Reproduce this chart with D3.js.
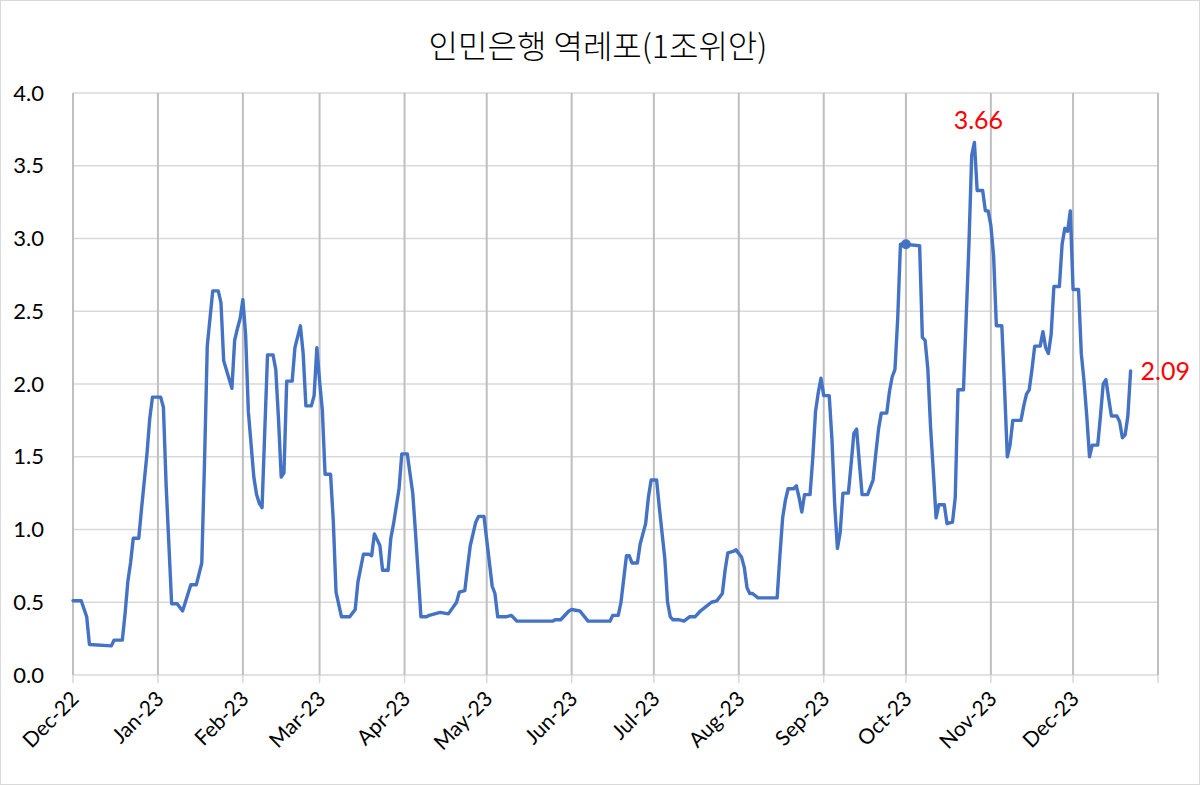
<!DOCTYPE html>
<html>
<head>
<meta charset="utf-8">
<script src="https://cdn.jsdelivr.net/npm/d3@7"></script>
<style>
  html, body { margin: 0; padding: 0; background: #fff; }
  svg { display: block; }
</style>
</head>
<body>
<svg id="chart" width="1200" height="785"></svg>
<script>
// ---- data ----
const chartTitle = "인민은행 역레포(1조위안)";
const dates = [
  "2022-12-01","2022-12-04","2022-12-06","2022-12-07","2022-12-15","2022-12-16","2022-12-19","2022-12-20",
  "2022-12-21","2022-12-22","2022-12-23","2022-12-25","2022-12-26","2022-12-28","2022-12-29","2022-12-30",
  "2023-01-02","2023-01-03","2023-01-04","2023-01-06","2023-01-08","2023-01-10","2023-01-13","2023-01-15",
  "2023-01-17","2023-01-18","2023-01-19","2023-01-21","2023-01-23","2023-01-24","2023-01-25","2023-01-28",
  "2023-01-29","2023-01-30","2023-01-31","2023-02-01","2023-02-02","2023-02-03","2023-02-05","2023-02-06",
  "2023-02-07","2023-02-08","2023-02-09","2023-02-10","2023-02-12","2023-02-13","2023-02-14","2023-02-15",
  "2023-02-16","2023-02-17","2023-02-19","2023-02-20","2023-02-22","2023-02-23","2023-02-24","2023-02-26",
  "2023-02-27","2023-02-28","2023-03-01","2023-03-02","2023-03-03","2023-03-05","2023-03-06","2023-03-07",
  "2023-03-09","2023-03-12","2023-03-14","2023-03-15","2023-03-17","2023-03-19","2023-03-20","2023-03-21",
  "2023-03-23","2023-03-24","2023-03-26","2023-03-27","2023-03-28","2023-03-30","2023-03-31","2023-04-02",
  "2023-04-04","2023-04-05","2023-04-07","2023-04-09","2023-04-10","2023-04-12","2023-04-14","2023-04-17",
  "2023-04-20","2023-04-21","2023-04-23","2023-04-24","2023-04-25","2023-04-26","2023-04-27","2023-04-28",
  "2023-04-30","2023-05-01","2023-05-03","2023-05-04","2023-05-05","2023-05-08","2023-05-10","2023-05-12",
  "2023-05-25","2023-05-26","2023-05-28","2023-05-31","2023-06-01","2023-06-04","2023-06-07","2023-06-15",
  "2023-06-16","2023-06-18","2023-06-19","2023-06-21","2023-06-22","2023-06-23","2023-06-25","2023-06-26",
  "2023-06-27","2023-06-28","2023-06-29","2023-06-30","2023-07-02","2023-07-03","2023-07-05","2023-07-06",
  "2023-07-07","2023-07-08","2023-07-10","2023-07-12","2023-07-14","2023-07-16","2023-07-18","2023-07-20",
  "2023-07-22","2023-07-24","2023-07-26","2023-07-27","2023-07-28","2023-07-30","2023-07-31","2023-08-02",
  "2023-08-03","2023-08-04","2023-08-05","2023-08-06","2023-08-08","2023-08-15","2023-08-16","2023-08-17",
  "2023-08-18","2023-08-19","2023-08-21","2023-08-22","2023-08-23","2023-08-24","2023-08-25","2023-08-27",
  "2023-08-28","2023-08-29","2023-08-30","2023-08-31","2023-09-01","2023-09-03","2023-09-04","2023-09-05",
  "2023-09-06","2023-09-07","2023-09-08","2023-09-10","2023-09-11","2023-09-12","2023-09-13","2023-09-14",
  "2023-09-15","2023-09-17","2023-09-18","2023-09-19","2023-09-20","2023-09-21","2023-09-22","2023-09-24",
  "2023-09-25","2023-09-26","2023-09-27","2023-09-28","2023-09-29","2023-10-01","2023-10-06","2023-10-07",
  "2023-10-08","2023-10-09","2023-10-10","2023-10-11","2023-10-12","2023-10-13","2023-10-15","2023-10-16",
  "2023-10-18","2023-10-19","2023-10-20","2023-10-22","2023-10-23","2023-10-24","2023-10-25","2023-10-26",
  "2023-10-27","2023-10-29","2023-10-30","2023-10-31","2023-11-01","2023-11-02","2023-11-03","2023-11-05",
  "2023-11-06","2023-11-07","2023-11-08","2023-11-09","2023-11-12","2023-11-13","2023-11-14","2023-11-15",
  "2023-11-16","2023-11-17","2023-11-19","2023-11-20","2023-11-21","2023-11-22","2023-11-23","2023-11-24",
  "2023-11-26","2023-11-27","2023-11-28","2023-11-29","2023-11-30","2023-12-01","2023-12-03","2023-12-04",
  "2023-12-05","2023-12-06","2023-12-07","2023-12-08","2023-12-10","2023-12-11","2023-12-12","2023-12-13",
  "2023-12-14","2023-12-15","2023-12-17","2023-12-18","2023-12-19","2023-12-20","2023-12-21","2023-12-22"
];
const values = [
  0.51,0.51,0.40,0.21,0.20,0.24,0.24,0.42,
  0.64,0.77,0.94,0.94,1.14,1.52,1.76,1.91,
  1.91,1.84,1.30,0.49,0.49,0.44,0.62,0.62,
  0.77,1.46,2.26,2.64,2.64,2.56,2.16,1.97,
  2.30,2.38,2.45,2.58,2.34,1.81,1.36,1.24,
  1.18,1.15,1.68,2.20,2.20,2.10,1.76,1.36,
  1.39,2.02,2.02,2.25,2.40,2.21,1.85,1.85,
  1.92,2.25,2.02,1.82,1.38,1.38,1.06,0.57,
  0.40,0.40,0.45,0.64,0.83,0.83,0.82,0.97,
  0.89,0.72,0.72,0.94,1.04,1.28,1.52,1.52,
  1.25,0.98,0.40,0.40,0.41,0.42,0.43,0.42,
  0.50,0.57,0.58,0.74,0.89,0.97,1.05,1.09,
  1.09,0.93,0.61,0.56,0.40,0.40,0.41,0.37,
  0.37,0.38,0.38,0.44,0.45,0.44,0.37,0.37,
  0.41,0.41,0.50,0.82,0.82,0.77,0.77,0.90,
  0.97,1.04,1.22,1.34,1.34,1.15,0.80,0.50,
  0.40,0.38,0.38,0.37,0.40,0.40,0.44,0.47,
  0.50,0.51,0.56,0.72,0.84,0.85,0.86,0.81,
  0.74,0.60,0.56,0.56,0.53,0.53,0.82,1.08,
  1.20,1.28,1.28,1.30,1.22,1.12,1.24,1.24,
  1.49,1.81,1.94,2.04,1.92,1.92,1.62,1.17,
  0.87,0.98,1.25,1.25,1.45,1.66,1.69,1.46,
  1.24,1.24,1.29,1.34,1.52,1.69,1.80,1.80,
  1.95,2.05,2.10,2.45,2.96,2.96,2.95,2.32,
  2.30,2.10,1.70,1.40,1.08,1.17,1.17,1.04,
  1.05,1.22,1.96,1.96,2.46,2.96,3.57,3.66,
  3.33,3.33,3.19,3.19,3.09,2.88,2.40,2.40,
  1.97,1.50,1.58,1.75,1.75,1.85,1.93,1.96,
  2.10,2.26,2.26,2.36,2.25,2.21,2.34,2.67,
  2.67,2.96,3.07,3.05,3.19,2.65,2.65,2.21,
  2.02,1.78,1.50,1.58,1.58,1.78,2.00,2.03,
  1.90,1.78,1.78,1.74,1.63,1.65,1.78,2.09
];
const yTicks = [0, 0.5, 1.0, 1.5, 2.0, 2.5, 3.0, 3.5, 4.0];
const xStart = "2022-12-01";
const xEnd = "2024-01-01";
const markerDate = "2023-10-01";
const peakLabel = "3.66";
const lastLabel = "2.09";

// ---- layout ----
const W = 1200, H = 785;
const margin = { top: 93, right: 42, bottom: 110, left: 73 };
const parse = d3.timeParse("%Y-%m-%d");
const data = dates.map((d, i) => ({ date: parse(d), value: values[i] }));

const svg = d3.select("#chart");
const x = d3.scaleTime().domain([parse(xStart), parse(xEnd)]).range([margin.left, W - margin.right]);
const y = d3.scaleLinear().domain([0, 4]).range([H - margin.bottom, margin.top]);

const latin = "Lato, 'Noto Sans', sans-serif";

// border
svg.append("rect").attr("x", 0.5).attr("y", 0.5).attr("width", W - 1).attr("height", H - 1)
  .attr("fill", "#fff").attr("stroke", "#d9d9d9").attr("stroke-width", 1);

// title
svg.append("text").attr("x", 598).attr("y", 58).attr("text-anchor", "middle")
  .attr("font-family", "'Noto Sans CJK KR', sans-serif").attr("font-size", 32)
  .attr("font-weight", 300)
  .attr("fill", "#000").text(chartTitle);

// horizontal gridlines
svg.append("g").selectAll("line").data(yTicks).join("line")
  .attr("x1", margin.left).attr("x2", W - margin.right)
  .attr("y1", d => y(d)).attr("y2", d => y(d))
  .attr("stroke", "#d9d9d9").attr("stroke-width", 1.5);

// vertical month gridlines + ticks
const months = d3.timeMonth.range(parse(xStart), d3.timeDay.offset(parse(xEnd), 1));
svg.append("g").selectAll("line").data(months).join("line")
  .attr("x1", d => x(d)).attr("x2", d => x(d))
  .attr("y1", margin.top).attr("y2", H - margin.bottom)
  .attr("stroke", "#bfbfbf").attr("stroke-width", 2);
svg.append("g").selectAll("line").data(months).join("line")
  .attr("x1", d => x(d)).attr("x2", d => x(d))
  .attr("y1", H - margin.bottom).attr("y2", H - margin.bottom + 8)
  .attr("stroke", "#d9d9d9").attr("stroke-width", 1.5);

// y axis labels
svg.append("g").selectAll("text").data(yTicks).join("text")
  .attr("x", margin.left - 29).attr("y", d => y(d)).attr("dy", "0.35em")
  .attr("text-anchor", "end").attr("font-family", latin).attr("font-size", 22)
  .attr("fill", "#000").text(d => d3.format(".1f")(d));

// x axis labels (rotated)
const fmt = d3.timeFormat("%b-%y");
svg.append("g").selectAll("text").data(months.slice(0, -1)).join("text")
  .attr("transform", d => `translate(${x(d) + 2},${H - margin.bottom + 20}) rotate(-45)`)
  .attr("text-anchor", "end").attr("dy", "0.35em")
  .attr("font-family", latin).attr("font-size", 21).attr("fill", "#000")
  .text(d => fmt(d));

// line
const line = d3.line().x(d => x(d.date)).y(d => y(d.value));
svg.append("path").datum(data).attr("d", line)
  .attr("fill", "none").attr("stroke", "#4472C4").attr("stroke-width", 3.4)
  .attr("stroke-linejoin", "round").attr("stroke-linecap", "round");

// marker
const mk = data.find(d => +d.date === +parse(markerDate));
svg.append("circle").attr("cx", x(mk.date)).attr("cy", y(mk.value)).attr("r", 5).attr("fill", "#4472C4");

// value labels
const peak = data.reduce((a, b) => (b.value > a.value ? b : a));
svg.append("text").attr("x", x(peak.date) + 4).attr("y", y(peak.value) - 13)
  .attr("text-anchor", "middle").attr("font-family", latin).attr("font-size", 25)
  .attr("fill", "#ff0000").text(peakLabel);
const last = data[data.length - 1];
svg.append("text").attr("x", x(last.date) + 10).attr("y", y(last.value)).attr("dy", "0.35em")
  .attr("text-anchor", "start").attr("font-family", latin).attr("font-size", 25)
  .attr("fill", "#ff0000").text(lastLabel);
</script>
</body>
</html>
